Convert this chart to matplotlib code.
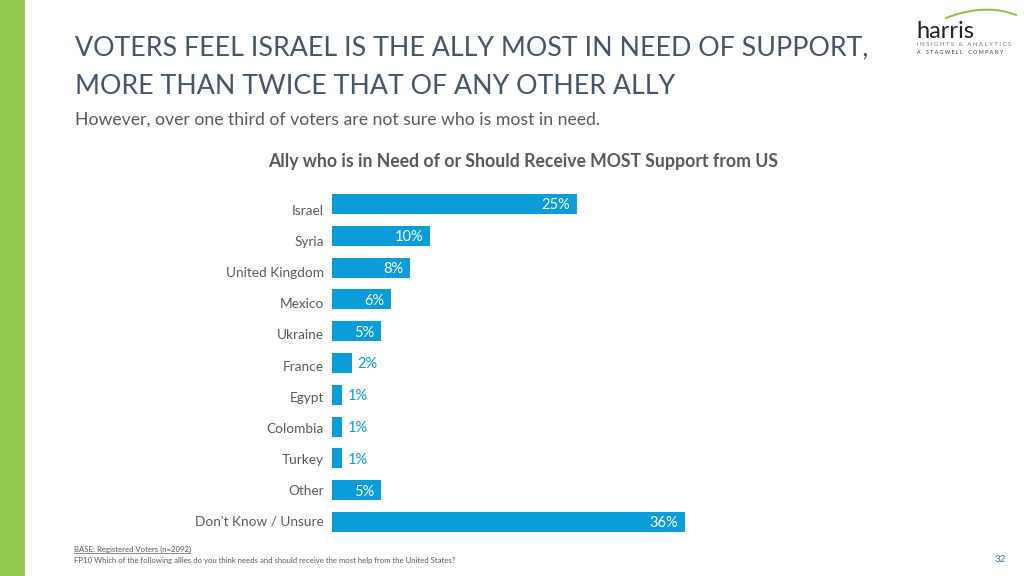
import matplotlib
matplotlib.use("Agg")
import matplotlib.pyplot as plt
import numpy as np
from matplotlib.lines import Line2D
from matplotlib.patches import Rectangle

categories = ["Israel", "Syria", "United Kingdom", "Mexico", "Ukraine", "France",
              "Egypt", "Colombia", "Turkey", "Other", "Don't Know / Unsure"]
values = [25, 10, 8, 6, 5, 2, 1, 1, 1, 5, 36]
value_labels = ["25%", "10%", "8%", "6%", "5%", "2%", "1%", "1%", "1%", "5%", "36%"]

FONT = "Lato"
BAR = "#0B9DD9"
GRAY = "#595959"
TITLE_C = "#44546A"

W, H = 1024, 576
fig = plt.figure(figsize=(W / 100, H / 100), dpi=100)
fig.patch.set_facecolor("white")

def fx(px):
    return px / W

def fy(py):
    return 1 - py / H

# green side strip
fig.add_artist(Rectangle((0, 0), fx(25), 1, transform=fig.transFigure,
                         facecolor="#92C84F", edgecolor="none"))

# titles
fig.text(fx(75), fy(48), "VOTERS FEEL ISRAEL IS THE ALLY MOST IN NEED OF SUPPORT,",
         fontsize=19.3, color=TITLE_C, family=FONT, va="center", ha="left")
fig.text(fx(75), fy(87), "MORE THAN TWICE THAT OF ANY OTHER ALLY",
         fontsize=19.3, color=TITLE_C, family=FONT, va="center", ha="left")
fig.text(fx(75), fy(120), "However, over one third of voters are not sure who is most in need.",
         fontsize=12.7, color=GRAY, family=FONT, va="center", ha="left")
fig.text(fx(523), fy(161), "Ally who is in Need of or Should Receive MOST Support from US",
         fontsize=12.7, color=GRAY, family=FONT, weight="bold", va="center", ha="center")

# footer
fig.text(fx(74), fy(549), "BASE: Registered Voters (n=2092)", fontsize=5.6, color=GRAY,
         family=FONT, va="center", ha="left")
fig.add_artist(Line2D([fx(74), fx(190)], [fy(553), fy(553)], transform=fig.transFigure,
                      color=GRAY, lw=0.5))
fig.text(fx(74), fy(561), "FP10 Which of the following allies do you think needs and should receive the most help from the United States?",
         fontsize=5.59, color=GRAY, family=FONT, va="center", ha="left")
fig.text(fx(1006), fy(559), "32", fontsize=7, color="#2E75B6", family=FONT, va="center", ha="right")

# logo
fig.text(fx(916), fy(38), "harris", fontsize=17, color="#222222", family=FONT,
         va="baseline", ha="left")
fig.text(fx(917), fy(44), "I N S I G H T S   &   A N A L Y T I C S", fontsize=4.3, color="#777777",
         family=FONT, va="center", ha="left")
fig.text(fx(917), fy(53), "A    S T A G W E L L    C O M P A N Y", fontsize=3.8, color="#333333",
         family=FONT, va="center", ha="left")
t = np.linspace(0, 1, 50)
p0, p1, p2 = np.array([946, 18]), np.array([985, 3]), np.array([1016, 15])
curve = ((1 - t) ** 2)[:, None] * p0 + (2 * (1 - t) * t)[:, None] * p1 + (t ** 2)[:, None] * p2
fig.add_artist(Line2D(fx(curve[:, 0]), fy(curve[:, 1]), transform=fig.transFigure,
                      color="#8DC044", lw=1.4))

# bar chart
top_px, step = 204, 31.8
n = len(categories)
ax_top = top_px - step / 2
ax_bot = top_px + step * (n - 1) + step / 2
rect = [fx(332), fy(ax_bot), fx(685 - 332), (ax_bot - ax_top) / H]
ax = fig.add_axes(rect)
y = np.arange(n)
ax.barh(y, values, height=0.63, color=BAR, edgecolor="none")
ax.set_xlim(0, 36)
ax.set_ylim(n - 0.5, -0.5)
for s in ax.spines.values():
    s.set_visible(False)
ax.set_xticks([])
ax.set_yticks([])

# category labels on an overlay axis (labels sit on a slightly tighter grid)
lab_top, lab_step = 210, 31.1
lax = fig.add_axes(rect)
lax.patch.set_visible(False)
lax.set_ylim((ax_bot - lab_top) / lab_step, -(lab_top - ax_top) / lab_step)
for s in lax.spines.values():
    s.set_visible(False)
lax.set_xticks([])
lax.set_yticks(y)
lax.set_yticklabels(categories, fontsize=9.8, color=GRAY, family=FONT)
lax.tick_params(axis="y", length=0, pad=6)

for yi, v, lab in zip(y, values, value_labels):
    if v >= 5:
        ax.annotate(lab, (v, yi), xytext=(-5, -1), textcoords="offset points",
                    ha="right", va="center", color="white", fontsize=10.5, family=FONT)
    else:
        ax.annotate(lab, (v, yi), xytext=(4, -1), textcoords="offset points",
                    ha="left", va="center", color=BAR, fontsize=10.5, family=FONT)

fig.savefig("out.png", dpi=100, facecolor="white")
